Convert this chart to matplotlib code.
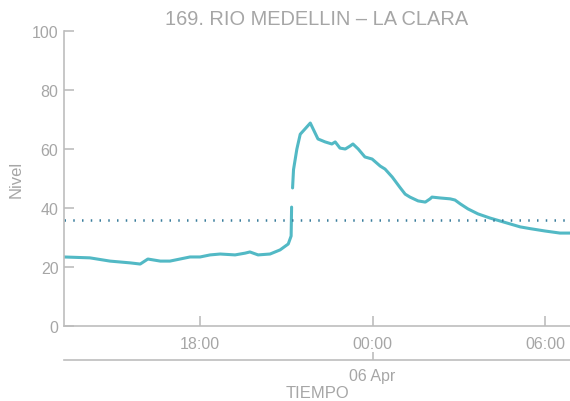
"""Nivel del rio: 169. RIO MEDELLIN - LA CLARA."""
import matplotlib
matplotlib.use('Agg')
import matplotlib.pyplot as plt
import matplotlib.dates as mdates
import numpy as np
import pandas as pd

plt.rcParams.update({
    'font.family': ['Liberation Sans', 'DejaVu Sans'],
    'font.size': 11.5,
})

TITLE = '169. RIO MEDELLIN \u2013 LA CLARA'

# Serie de nivel (NaN = corte en el salto).
tiempo = [
    '2019-04-05 13:16', '2019-04-05 14:10', '2019-04-05 14:52', '2019-04-05 15:34',
    '2019-04-05 15:55', '2019-04-05 16:11', '2019-04-05 16:37', '2019-04-05 16:57',
    '2019-04-05 17:18', '2019-04-05 17:39', '2019-04-05 18:00', '2019-04-05 18:21',
    '2019-04-05 18:42', '2019-04-05 19:13', '2019-04-05 19:34', '2019-04-05 19:44',
    '2019-04-05 20:01', '2019-04-05 20:26', '2019-04-05 20:47', '2019-04-05 21:04',
    '2019-04-05 21:10', '2019-04-05 21:11', '2019-04-05 21:12', '2019-04-05 21:13',
    '2019-04-05 21:15', '2019-04-05 21:22', '2019-04-05 21:29', '2019-04-05 21:39',
    '2019-04-05 21:50', '2019-04-05 22:06', '2019-04-05 22:21', '2019-04-05 22:35',
    '2019-04-05 22:42', '2019-04-05 22:52', '2019-04-05 23:03', '2019-04-05 23:13',
    '2019-04-05 23:19', '2019-04-05 23:30', '2019-04-05 23:44', '2019-04-05 23:59',
    '2019-04-06 00:16', '2019-04-06 00:26', '2019-04-06 00:41', '2019-04-06 00:57',
    '2019-04-06 01:08', '2019-04-06 01:18', '2019-04-06 01:35', '2019-04-06 01:50',
    '2019-04-06 02:00', '2019-04-06 02:04', '2019-04-06 02:21', '2019-04-06 02:42',
    '2019-04-06 02:52', '2019-04-06 03:03', '2019-04-06 03:19', '2019-04-06 03:40',
    '2019-04-06 04:05', '2019-04-06 04:26', '2019-04-06 04:47', '2019-04-06 05:08',
    '2019-04-06 05:29', '2019-04-06 06:00', '2019-04-06 06:31', '2019-04-06 06:52',
]
nivel = [
    23.4, 23.1, 22.0, 21.4,
    21.0, 22.7, 22.0, 22.0,
    22.7, 23.4, 23.4, 24.1,
    24.4, 24.1, 24.7, 25.1,
    24.1, 24.4, 25.8, 27.8,
    30.5, 40.3, np.nan, 46.8,
    53.0, 60.0, 65.0, 66.8,
    68.8, 63.4, 62.4, 61.7,
    62.4, 60.3, 60.0, 61.0,
    61.7, 60.0, 57.3, 56.6,
    54.2, 53.2, 50.5, 47.0,
    44.7, 43.7, 42.4, 42.0,
    43.1, 43.7, 43.4, 43.1,
    42.7, 41.4, 39.7, 38.0,
    36.6, 35.6, 34.6, 33.6,
    33.0, 32.2, 31.5, 31.5,
]
umbral = 36.0

x_ini, x_fin = '2019-04-05 13:16', '2019-04-06 06:52'

GRIS_TXT = '#a6a6a6'
GRIS_EJE = '#bdbdbd'

t = pd.to_datetime(tiempo)

fig = plt.figure(figsize=(5.7, 4.02), dpi=100)
ax = fig.add_axes([64 / 570, 75 / 402, 1 - 64 / 570, 295 / 402])

ax.plot(t, nivel, color='#52b9c5', lw=2.2, solid_capstyle='round')
ax.axhline(umbral, color='#3a7d9c', lw=1.8, ls=(0, (0.6, 2.9)))

ax.set_xlim(pd.Timestamp(x_ini), pd.Timestamp(x_fin))
ax.set_ylim(0, 100)
ax.set_yticks([0, 20, 40, 60, 80, 100])

ax.xaxis.set_major_locator(mdates.HourLocator(byhour=[0, 6, 12, 18]))
ax.xaxis.set_major_formatter(mdates.DateFormatter('%H:%M'))

for s in ['top', 'right']:
    ax.spines[s].set_visible(False)
for s in ['left', 'bottom']:
    ax.spines[s].set_color(GRIS_EJE)
    ax.spines[s].set_linewidth(1.2)
ax.tick_params(direction='in', length=7, width=1.2, color=GRIS_EJE,
               labelcolor=GRIS_TXT, pad=4)
ax.tick_params(axis='x', pad=7)

# segundo eje con la fecha
sec = ax.secondary_xaxis(-34 / 295)
sec.xaxis.set_major_locator(mdates.DayLocator())
sec.xaxis.set_major_formatter(mdates.DateFormatter('%d %b'))
sec.spines['bottom'].set_color(GRIS_EJE)
sec.spines['bottom'].set_linewidth(1.2)
sec.tick_params(direction='in', length=6, width=1.2, color=GRIS_EJE,
                labelcolor=GRIS_TXT, pad=6)
sec.set_xlabel('TIEMPO', color=GRIS_TXT, fontsize=12, labelpad=1)

ax.set_ylabel('Nivel', color=GRIS_TXT, fontsize=12, labelpad=6)
ax.set_title(TITLE, color=GRIS_TXT, fontsize=14.4, pad=5)

fig.savefig('out.png', dpi=100)
